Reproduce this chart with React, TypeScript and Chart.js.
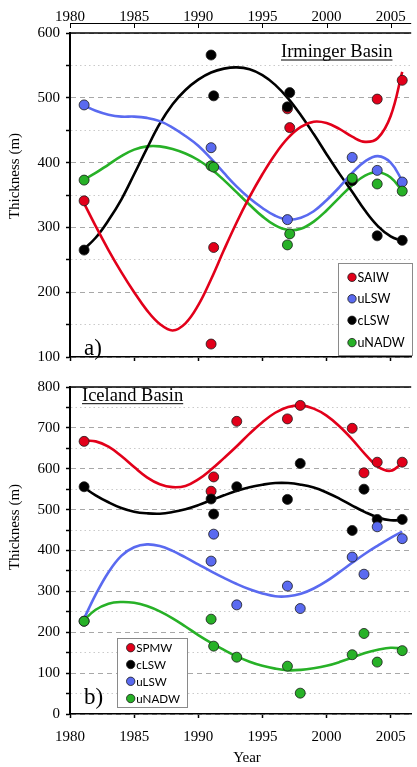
import React, { useEffect, useRef } from 'react';
import { Chart, registerables } from 'chart.js';

Chart.register(...registerables);

// ---------- shared axis values ----------
const X_MIN = 1980;
const X_MAX = 2006.6;
const X_STEP = 5;
const curveYears = [1981, 1982, 1983, 1984, 1985, 1986, 1987, 1988, 1989, 1990, 1991, 1992, 1993, 1994, 1995, 1996, 1997, 1998, 1999, 2000, 2001, 2002, 2003, 2004, 2005, 2005.9];

// ---------- a) Irminger Basin ----------
const topLabels = ['SAIW', 'uLSW', 'cLSW', 'uNADW'];
const topTitle = 'Irminger Basin';
const topYMin = 100;
const topYMax = 600;

const irSaiwYears = [1981.1, 1991.0, 1991.2, 1996.95, 1997.13, 2003.95, 2005.9];
const irSaiwValues = [341, 120, 269, 483, 454, 498, 527];
const irSaiwCurve = [341, 302, 265, 231, 200, 172, 151, 141, 152, 180, 220, 265, 308, 347, 382, 413, 438, 455, 463, 461, 452, 440, 432, 438, 472, 540];

const irUlswYears = [1981.1, 1991.0, 1996.95, 2002.0, 2003.95, 2005.9];
const irUlswValues = [489, 423, 312, 408, 388, 370];
const irUlswCurve = [489, 480, 474, 471, 471, 469, 464, 454, 441, 426, 406, 384, 363, 345, 330, 318, 312, 315, 325, 342, 362, 384, 402, 410, 400, 372];

const irClswYears = [1981.1, 1991.0, 1991.2, 1996.95, 1997.13, 2002.0, 2003.95, 2005.9];
const irClswValues = [265, 566, 503, 486, 508, 372, 287, 280];
const irClswCurve = [265, 284, 311, 343, 382, 422, 460, 490, 512, 528, 539, 545, 547, 544, 535, 520, 499, 473, 444, 413, 383, 355, 326, 302, 286, 279];

const irUnadwYears = [1981.1, 1991.0, 1991.2, 1996.95, 1997.13, 2002.0, 2003.95, 2005.9];
const irUnadwValues = [373, 395, 393, 273, 290, 376, 367, 356];
const irUnadwCurve = [373, 384, 397, 410, 420, 425, 425, 421, 414, 404, 390, 373, 354, 335, 317, 303, 296, 298, 309, 326, 346, 365, 380, 385, 377, 356];

// ---------- b) Iceland Basin ----------
const botLabels = ['SPMW', 'cLSW', 'uLSW', 'uNADW'];
const botTitle = 'Iceland Basin';
const botYMin = 0;
const botYMax = 800;

const icYears = [1981.1, 1991.0, 1991.2, 1993.0, 1996.95, 1997.95, 2002.0, 2002.92, 2003.95, 2005.9];
const icSpmwValues = [667, 545, 580, 716, 722, 755, 699, 590, 616, 616];
const icClswValues = [556, 526, 489, 556, 525, 613, 449, 550, 476, 476];
const icUlswValues = [227, 374, 440, 267, 313, 258, 384, 342, 458, 429];
const icUnadwValues = [227, 232, 166, 139, 117, 51, 145, 197, 127, 155];

const icSpmwCurve = [668, 667, 654, 631, 604, 579, 562, 555, 558, 574, 598, 626, 655, 686, 714, 737, 751, 755, 747, 730, 704, 672, 636, 605, 595, 614];
const icClswCurve = [556, 535, 518, 504, 495, 491, 490, 494, 501, 511, 523, 535, 546, 555, 561, 565, 565, 561, 554, 542, 527, 510, 494, 481, 474, 475];
const icUlswCurve = [227, 292, 347, 387, 408, 415, 411, 399, 383, 366, 349, 333, 318, 305, 295, 288, 288, 294, 307, 325, 347, 370, 392, 412, 431, 446];
const icUnadwCurve = [227, 255, 270, 274, 272, 264, 251, 234, 214, 193, 174, 157, 141, 128, 118, 111, 107, 108, 112, 118, 127, 138, 149, 157, 162, 160];

// ---------- styles ----------
const RED = '#e2001a';
const BLUE = '#5a6af0';
const BLACK = '#000000';
const GREEN = '#27b127';
const SERIF = '"Liberation Serif", "Times New Roman", serif';
const SANS = 'Lato, "Open Sans", sans-serif';

type Series = { label: string; color: string; years: number[]; values: number[]; curve: number[] };

function buildDatasets(series: Series[]) {
  const ds: any[] = [];
  series.forEach((s, i) => {
    ds.push({
      type: 'line',
      label: s.label + ' fit',
      data: curveYears.map((x, k) => ({ x, y: s.curve[k] })),
      borderColor: s.color,
      borderWidth: 2.6,
      pointRadius: 0,
      tension: 0.4,
      fill: false,
      order: 20 + i,
    });
  });
  series.forEach((s, i) => {
    ds.push({
      type: 'scatter',
      label: s.label,
      data: s.years.map((x, k) => ({ x, y: s.values[k] })),
      backgroundColor: s.color,
      borderColor: '#1a1a1a',
      borderWidth: 0.8,
      pointRadius: 5,
      showLine: false,
      order: series.length - i,
    });
  });
  return ds;
}

function yScale(min: number, max: number) {
  return {
    type: 'linear',
    position: 'left',
    min,
    max,
    afterFit: (s: any) => { s.width = 70; },
    ticks: {
      stepSize: 50,
      autoSkip: false,
      padding: 6,
      color: '#000',
      font: { family: SERIF, size: 15 },
      callback: (v: any) => (Number(v) % 100 === 0 ? String(v) : ''),
    },
    grid: {
      color: (c: any) => (c.tick && c.tick.value % 100 === 0 ? '#a8a8a8' : '#cacaca'),
      lineWidth: 1,
      drawTicks: true,
      tickLength: 4,
      tickColor: '#000',
      tickWidth: 1.5,
    },
    border: {
      display: true,
      color: '#000',
      width: 2,
      dash: (c: any) => (c.tick ? (c.tick.value % 100 === 0 ? [5, 4] : [1.5, 3]) : []),
    },
  };
}

function drawLegend(ctx: CanvasRenderingContext2D, box: number[], labels: string[], colors: string[], dotX: number, ys: number[], fontSize: number) {
  const [x0, y0, x1, y1] = box;
  ctx.fillStyle = '#fff';
  ctx.fillRect(x0, y0, x1 - x0, y1 - y0);
  ctx.strokeStyle = '#8a8a8a';
  ctx.lineWidth = 1;
  ctx.strokeRect(x0 + 0.5, y0 + 0.5, x1 - x0, y1 - y0);
  ctx.font = `${fontSize}px ${SANS}`;
  ctx.textAlign = 'left';
  ctx.textBaseline = 'middle';
  labels.forEach((lab, i) => {
    ctx.beginPath();
    ctx.arc(dotX, ys[i], 4.2, 0, Math.PI * 2);
    ctx.fillStyle = colors[i];
    ctx.fill();
    ctx.lineWidth = 0.8;
    ctx.strokeStyle = '#1a1a1a';
    ctx.stroke();
    ctx.fillStyle = '#000';
    ctx.fillText(lab, dotX + 5.5, ys[i] + 0.5);
  });
}

function drawYLabel(ctx: CanvasRenderingContext2D, cx: number, cy: number) {
  ctx.save();
  ctx.translate(cx, cy);
  ctx.rotate(-Math.PI / 2);
  ctx.font = `15px ${SERIF}`;
  ctx.fillStyle = '#000';
  ctx.textAlign = 'center';
  ctx.textBaseline = 'middle';
  ctx.fillText('Thickness (m)', 0, 0);
  ctx.restore();
}

function drawTitle(ctx: CanvasRenderingContext2D, text: string, left: number, baseline: number) {
  ctx.font = `18.5px ${SERIF}`;
  ctx.fillStyle = '#000';
  ctx.textAlign = 'left';
  ctx.textBaseline = 'alphabetic';
  ctx.fillText(text, left, baseline);
  const w = ctx.measureText(text).width;
  ctx.strokeStyle = '#000';
  ctx.lineWidth = 1;
  ctx.beginPath();
  ctx.moveTo(left, baseline + 3);
  ctx.lineTo(left + w, baseline + 3);
  ctx.stroke();
}

function drawPanelLetter(ctx: CanvasRenderingContext2D, text: string, x: number, baseline: number) {
  ctx.font = `23px ${SERIF}`;
  ctx.fillStyle = '#000';
  ctx.textAlign = 'left';
  ctx.textBaseline = 'alphabetic';
  ctx.fillText(text, x, baseline);
}

function drawTopBorder(ctx: CanvasRenderingContext2D, a: any) {
  ctx.strokeStyle = '#000';
  ctx.lineWidth = 1.5;
  ctx.beginPath();
  ctx.moveTo(a.left, a.top);
  ctx.lineTo(a.right, a.top);
  ctx.stroke();
}

const topDecor = {
  id: 'topDecor',
  afterDraw(chart: any) {
    const { ctx, chartArea: a } = chart;
    ctx.save();
    drawTopBorder(ctx, a);
    // top year axis line with inward ticks
    const sc = chart.scales.xTop;
    ctx.strokeStyle = '#000';
    ctx.lineWidth = 1;
    ctx.beginPath();
    ctx.moveTo(a.left, 23.5);
    ctx.lineTo(a.right, 23.5);
    ctx.stroke();
    sc.ticks.forEach((t: any) => {
      const px = Math.round(sc.getPixelForValue(t.value)) + 0.5;
      ctx.beginPath();
      ctx.moveTo(px, 23.5);
      ctx.lineTo(px, 28);
      ctx.stroke();
    });
    drawTitle(ctx, topTitle, 281, 57);
    drawPanelLetter(ctx, 'a)', 84, 355);
    drawYLabel(ctx, 15, 176);
    drawLegend(ctx, [338, 263, 412, 355], topLabels, [RED, BLUE, BLACK, GREEN], 352, [277.3, 298.8, 320.3, 342.6], 12.5);
    ctx.restore();
  },
};

const botDecor = {
  id: 'botDecor',
  afterDraw(chart: any) {
    const { ctx, chartArea: a } = chart;
    ctx.save();
    drawTopBorder(ctx, a);
    drawTitle(ctx, botTitle, 82, 28.7);
    drawPanelLetter(ctx, 'b)', 84, 332);
    drawYLabel(ctx, 15, 155);
    ctx.font = `15px ${SERIF}`;
    ctx.fillStyle = '#000';
    ctx.textAlign = 'center';
    ctx.textBaseline = 'middle';
    ctx.fillText('Year', 247, 386);
    drawLegend(ctx, [117, 266, 187, 335], botLabels, [RED, BLACK, BLUE, GREEN], 130.7, [275.7, 292.5, 309.3, 326.5], 11.6);
    ctx.restore();
  },
};

function topConfig(): any {
  const series: Series[] = [
    { label: topLabels[0], color: RED, years: irSaiwYears, values: irSaiwValues, curve: irSaiwCurve },
    { label: topLabels[1], color: BLUE, years: irUlswYears, values: irUlswValues, curve: irUlswCurve },
    { label: topLabels[2], color: BLACK, years: irClswYears, values: irClswValues, curve: irClswCurve },
    { label: topLabels[3], color: GREEN, years: irUnadwYears, values: irUnadwValues, curve: irUnadwCurve },
  ];
  return {
    type: 'scatter',
    data: { datasets: buildDatasets(series) },
    options: {
      responsive: false,
      animation: false,
      devicePixelRatio: 1,
      layout: { padding: 0 },
      plugins: { legend: { display: false }, tooltip: { enabled: false } },
      scales: {
        x: {
          type: 'linear',
          position: 'bottom',
          min: X_MIN,
          max: X_MAX,
          afterFit: (s: any) => { s.height = 10; },
          ticks: { display: false, stepSize: X_STEP, includeBounds: false },
          grid: { drawOnChartArea: false, drawTicks: true, tickLength: 4, tickColor: '#000', tickWidth: 1.5 },
          border: { display: true, color: '#000', width: 1.5 },
        },
        xTop: {
          type: 'linear',
          position: 'top',
          min: X_MIN,
          max: X_MAX,
          afterFit: (s: any) => { s.height = 33; },
          ticks: {
            stepSize: X_STEP,
            includeBounds: false,
            padding: 7,
            maxRotation: 0,
            color: '#000',
            font: { family: SERIF, size: 15 },
            callback: (v: any) => String(v),
          },
          grid: { drawOnChartArea: false, drawTicks: false },
          border: { display: false },
        },
        y: yScale(topYMin, topYMax),
      },
    },
    plugins: [topDecor],
  };
}

function botConfig(): any {
  const series: Series[] = [
    { label: botLabels[0], color: RED, years: icYears, values: icSpmwValues, curve: icSpmwCurve },
    { label: botLabels[1], color: BLACK, years: icYears, values: icClswValues, curve: icClswCurve },
    { label: botLabels[2], color: BLUE, years: icYears, values: icUlswValues, curve: icUlswCurve },
    { label: botLabels[3], color: GREEN, years: icYears, values: icUnadwValues, curve: icUnadwCurve },
  ];
  return {
    type: 'scatter',
    data: { datasets: buildDatasets(series) },
    options: {
      responsive: false,
      animation: false,
      devicePixelRatio: 1,
      layout: { padding: { top: 12, left: 0, right: 0, bottom: 0 } },
      plugins: { legend: { display: false }, tooltip: { enabled: false } },
      scales: {
        x: {
          type: 'linear',
          position: 'bottom',
          min: X_MIN,
          max: X_MAX,
          afterFit: (s: any) => { s.height = 53; },
          ticks: {
            stepSize: X_STEP,
            includeBounds: false,
            padding: 10,
            maxRotation: 0,
            color: '#000',
            font: { family: SERIF, size: 15 },
            callback: (v: any) => String(v),
          },
          grid: { drawOnChartArea: false, drawTicks: true, tickLength: 4, tickColor: '#000', tickWidth: 1.5 },
          border: { display: true, color: '#000', width: 1.5 },
        },
        y: yScale(botYMin, botYMax),
      },
    },
    plugins: [botDecor],
  };
}

export default function App() {
  const topRef = useRef<HTMLCanvasElement>(null);
  const botRef = useRef<HTMLCanvasElement>(null);
  useEffect(() => {
    const c1 = new Chart(topRef.current as HTMLCanvasElement, topConfig());
    const c2 = new Chart(botRef.current as HTMLCanvasElement, botConfig());
    return () => {
      c1.destroy();
      c2.destroy();
    };
  }, []);
  return (
    <div style={{ position: 'absolute', left: 0, top: 0, width: 417, height: 767, background: '#fff' }}>
      <canvas ref={topRef} width={417} height={372} style={{ position: 'absolute', left: 0, top: 0 }} />
      <canvas ref={botRef} width={417} height={395} style={{ position: 'absolute', left: 0, top: 372 }} />
    </div>
  );
}
